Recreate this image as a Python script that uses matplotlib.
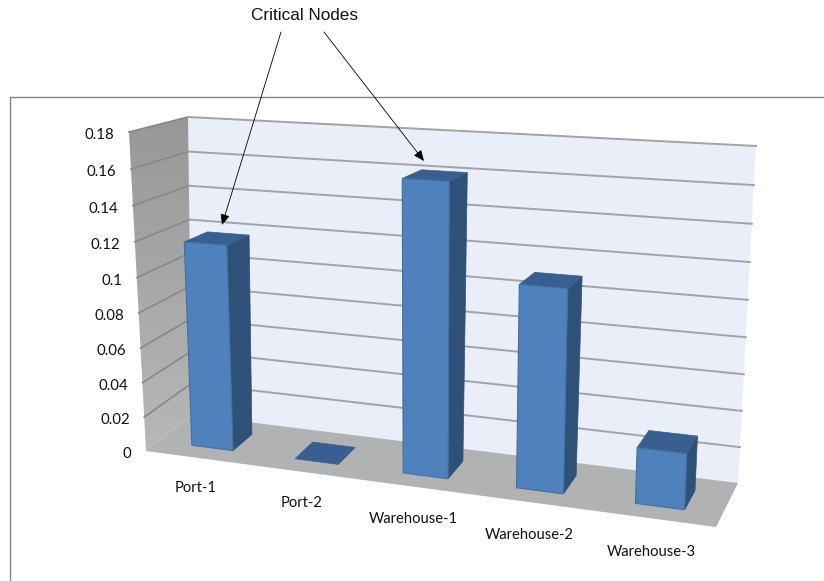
import matplotlib.pyplot as plt
import numpy as np
from matplotlib.patches import Polygon

categories = ["Port-1", "Port-2", "Warehouse-1", "Warehouse-2", "Warehouse-3"]
values = [0.118, 0.0, 0.161, 0.11, 0.03]
tick_values = [0, 0.02, 0.04, 0.06, 0.08, 0.1, 0.12, 0.14, 0.16, 0.18]
tick_labels = ["0", "0.02", "0.04", "0.06", "0.08", "0.1", "0.12", "0.14", "0.16", "0.18"]

y_max = 0.18
bar_width = 0.08
depth_front, depth_back = 0.28, 0.72

# box corners in pixels: front plane and back wall
front = {"bl": (146, 451), "br": (716, 527), "tl": (129, 132), "tr": (730, 166)}
back = {"bl": (192, 415), "br": (738, 483), "tl": (188, 117), "tr": (756, 146)}


def persp(t, k):
    return t / (k - (k - 1) * t)


def project(u, value, depth):
    # category position u (0-1), value, depth (0 front, 1 back) to pixels
    a = persp(u, 1.118)
    b = persp(value / y_max, 1.05)
    pts = []
    for plane in (front, back):
        low = (1 - a) * np.array(plane["bl"]) + a * np.array(plane["br"])
        high = (1 - a) * np.array(plane["tl"]) + a * np.array(plane["tr"])
        pts.append((1 - b) * low + b * high)
    return (1 - depth) * pts[0] + depth * pts[1]


fig = plt.figure(figsize=(8.24, 5.81), dpi=100)
ax = fig.add_axes([0, 0, 1, 1])
ax.set_axis_off()

# back wall
wall = [project(0, 0, 1), project(1, 0, 1), project(1, y_max, 1), project(0, y_max, 1)]
ax.add_patch(Polygon(wall, closed=True, facecolor="#e9eef8", edgecolor="none"))

# side wall, darker towards the top
side = [project(0, 0, 0), project(0, 0, 1), project(0, y_max, 1), project(0, y_max, 0)]
side_patch = Polygon(side, closed=True, facecolor="none", edgecolor="none")
ax.add_patch(side_patch)
shade = np.linspace(0, 1, 64).reshape(-1, 1)
im = ax.imshow(shade, extent=(120, 200, 460, 110), cmap="gray", vmin=-4.54, vmax=3.15,
               aspect="auto", zorder=1)
im.set_clip_path(side_patch)

# floor
floor = [project(0, 0, 0), project(1, 0, 0), project(1, 0, 1), project(0, 0, 1)]
ax.add_patch(Polygon(floor, closed=True, facecolor="#b1b2b4", edgecolor="none", zorder=2))

# gridlines along both walls
for tick in tick_values[1:]:
    line = np.array([project(0, tick, 0), project(0, tick, 1)])
    ax.plot(line[:, 0], line[:, 1], color="#87888b", lw=1.2, zorder=2)
    line = np.array([project(0, tick, 1), project(1, tick, 1)])
    ax.plot(line[:, 0], line[:, 1], color="#a3a3a5", lw=1.4, zorder=2)

# the bars, the left ones sit slightly further right of their slot
for i, val in enumerate(values):
    left = (i + 0.5) / len(values) - bar_width / 2 + 0.005 * (1 - i / 4) ** 2
    right = left + bar_width
    front_face = [project(left, 0, depth_front), project(right, 0, depth_front),
                  project(right, val, depth_front), project(left, val, depth_front)]
    side_face = [project(right, 0, depth_front), project(right, 0, depth_back),
                 project(right, val, depth_back), project(right, val, depth_front)]
    top_face = [project(left, val, depth_front), project(right, val, depth_front),
                project(right, val, depth_back), project(left, val, depth_back)]
    ax.add_patch(Polygon(side_face, closed=True, facecolor="#2f5179", edgecolor="#2f5179", lw=0.5, zorder=3))
    ax.add_patch(Polygon(top_face, closed=True, facecolor="#385f8f", edgecolor="#385f8f", lw=0.5, zorder=3))
    if val > 0:
        ax.add_patch(Polygon(front_face, closed=True, facecolor="#4f81bd", edgecolor="#41709f", lw=0.8, zorder=4))

# value labels next to the side wall
for tick, label in zip(tick_values, tick_labels):
    x, y = project(0, tick, 0)
    ax.text(x - 14.5, y + 3, label, ha="right", va="center", fontsize=10.8, family="Lato", color="#111111")

# category labels under the floor
for i, label in enumerate(categories):
    u = (i + 0.5) / len(categories)
    x, y = project(u, 0, 0)
    ax.text(x - 2, y + 29.5 + 4.5 * persp(u, 1.118), label, ha="center", va="center", fontsize=10.6,
            family="Lato", color="#111111")

# chart frame, only top and left are visible
ax.plot([824, 10, 10], [96.5, 96.5, 581], color="#808080", lw=1, clip_on=False, zorder=1)

ax.text(304.5, 15, "Critical Nodes", ha="center", va="center", fontsize=12.3, family="Liberation Sans", color="#111111")
for start, tip in [((281, 32), (222, 225)), ((324, 32), (424, 161))]:
    ax.annotate("", xy=tip, xytext=start, zorder=6,
                arrowprops=dict(arrowstyle="-|>,head_length=0.65,head_width=0.28", color="black", lw=0.6,
                                shrinkA=0, shrinkB=0))

ax.set_xlim(0, 824)
ax.set_ylim(581, 0)
fig.savefig("out.png", dpi=100)
